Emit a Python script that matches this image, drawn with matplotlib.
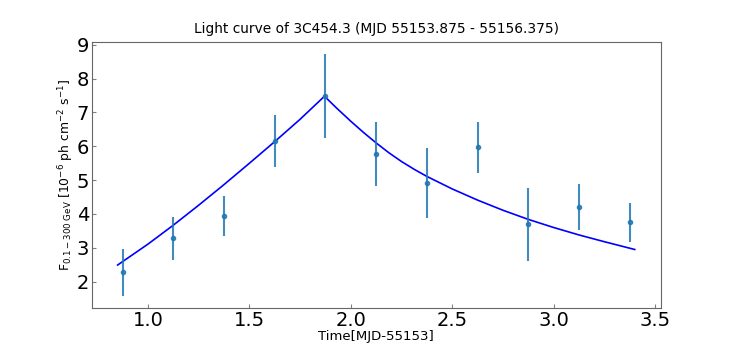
import matplotlib.pyplot as plt
from matplotlib.ticker import MultipleLocator

# binned light curve (MJD - 55153)
t = [0.875, 1.125, 1.375, 1.625, 1.875, 2.125, 2.375, 2.625, 2.875, 3.125, 3.375]
flux = [2.27, 3.28, 3.94, 6.16, 7.49, 5.77, 4.92, 5.97, 3.69, 4.21, 3.75]
err = [0.69, 0.63, 0.59, 0.77, 1.25, 0.95, 1.04, 0.75, 1.09, 0.67, 0.58]

# fitted profile
fit_t = [0.85, 1.0, 1.125, 1.25, 1.375, 1.5, 1.625, 1.75, 1.87, 1.93, 2.0, 2.0625,
         2.125, 2.1875, 2.25, 2.3125, 2.375, 2.5, 2.625, 2.75, 2.875, 3.0, 3.125,
         3.25, 3.4]
fit_f = [2.49, 3.11, 3.67, 4.26, 4.87, 5.5, 6.14, 6.8, 7.48, 7.13, 6.74, 6.41,
         6.10, 5.81, 5.55, 5.32, 5.11, 4.74, 4.41, 4.11, 3.84, 3.60, 3.38,
         3.18, 2.95]

fig, ax = plt.subplots(figsize=(7.34, 3.46), dpi=100)
ax.plot(fit_t, fit_f, color='b', lw=1.2)
ax.errorbar(t, flux, yerr=err, fmt='o', ms=3, color='C0', elinewidth=1.5, alpha=0.85)

ax.set_title("Light curve of 3C454.3 (MJD 55153.875 - 55156.375)", fontsize=9.9)
ax.set_xlabel("Time[MJD-55153]", fontsize=9.5, labelpad=0)
ax.set_ylabel(r"F$_{0.1-300\ \mathrm{GeV}}$ [10$^{-6}$ ph cm$^{-2}$ s$^{-1}$]",
              fontsize=8.9, labelpad=0)
ax.yaxis.set_major_locator(MultipleLocator(1))
ax.tick_params(labelsize=14, direction='in', length=3, color='0.5', pad=2)
for s in ax.spines.values():
    s.set_color('0.4')

plt.savefig("out.png")
